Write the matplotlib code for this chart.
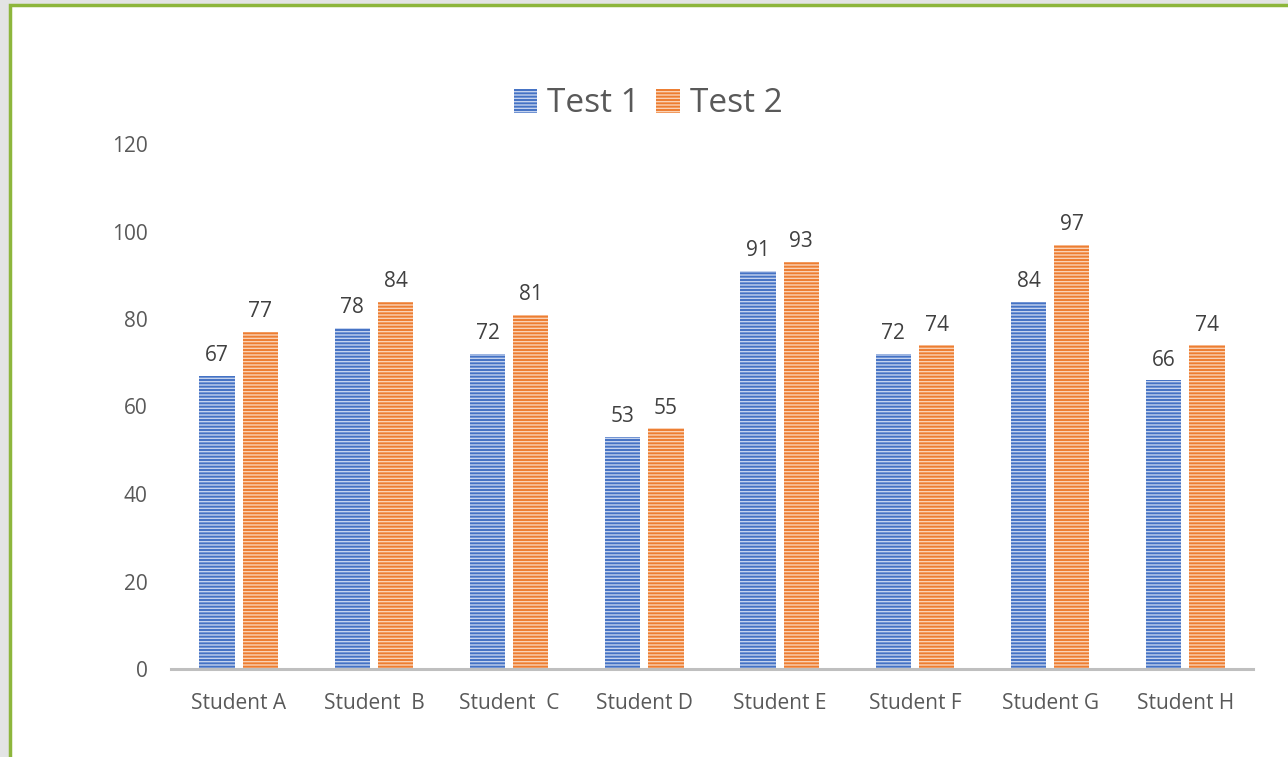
import numpy as np
import matplotlib.pyplot as plt
from matplotlib.patches import Rectangle

students = ["Student A", "Student  B", "Student  C", "Student D",
            "Student E", "Student F", "Student G", "Student H"]
test1 = [67, 78, 72, 53, 91, 72, 84, 66]
test2 = [77, 84, 81, 55, 93, 74, 97, 74]
yticks = [0, 20, 40, 60, 80, 100, 120]

plt.rcParams["font.family"] = ["Open Sans", "DejaVu Sans"]
plt.rcParams["hatch.linewidth"] = 1.0
text_col = "#595959"

fig = plt.figure(figsize=(12.88, 7.57), dpi=100, facecolor="#e3e4e4")
# white card with green border
fig.patches.append(Rectangle((10 / 1288, -0.05), 1.1, 1 - 4.5 / 757 + 0.05,
                             transform=fig.transFigure, facecolor="white",
                             edgecolor="#8db63c", linewidth=2.5, zorder=-1))

ax = fig.add_axes([171 / 1288, 1 - 669 / 757, (1253 - 171) / 1288, (669 - 144) / 757])
ax.set_facecolor("none")

x = np.arange(len(students))
w = 0.26
b1 = ax.bar(x - 0.16, test1, w, color="#4472c4", edgecolor="#c5d3ee",
            linewidth=0, hatch="-----", label="Test 1")
b2 = ax.bar(x + 0.16, test2, w, color="#ed7d31", edgecolor="#fad2b6",
            linewidth=0, hatch="-----", label="Test 2")

for bars in (b1, b2):
    ax.bar_label(bars, padding=7, fontsize=15, color="#404040")

ax.set_xlim(-0.5, 7.5)
ax.set_ylim(0, 120)
ax.set_yticks(yticks)
ax.set_xticks(x)
ax.set_xticklabels(students)
ax.tick_params(axis="both", length=0, labelsize=15, labelcolor=text_col)
ax.tick_params(axis="y", pad=17)
ax.tick_params(axis="x", pad=17)
for s in ("top", "right", "left"):
    ax.spines[s].set_visible(False)
ax.spines["bottom"].set_color("#bfbfbf")
ax.spines["bottom"].set_linewidth(2.2)

leg = fig.legend(loc="center", bbox_to_anchor=(648 / 1288, 1 - 104 / 757),
                 ncol=2, frameon=False, fontsize=24, handlelength=0.7,
                 handleheight=0.7, handletextpad=0.3, columnspacing=0.5)
for t in leg.get_texts():
    t.set_color(text_col)

fig.savefig("out.png", dpi=100, facecolor=fig.get_facecolor())
